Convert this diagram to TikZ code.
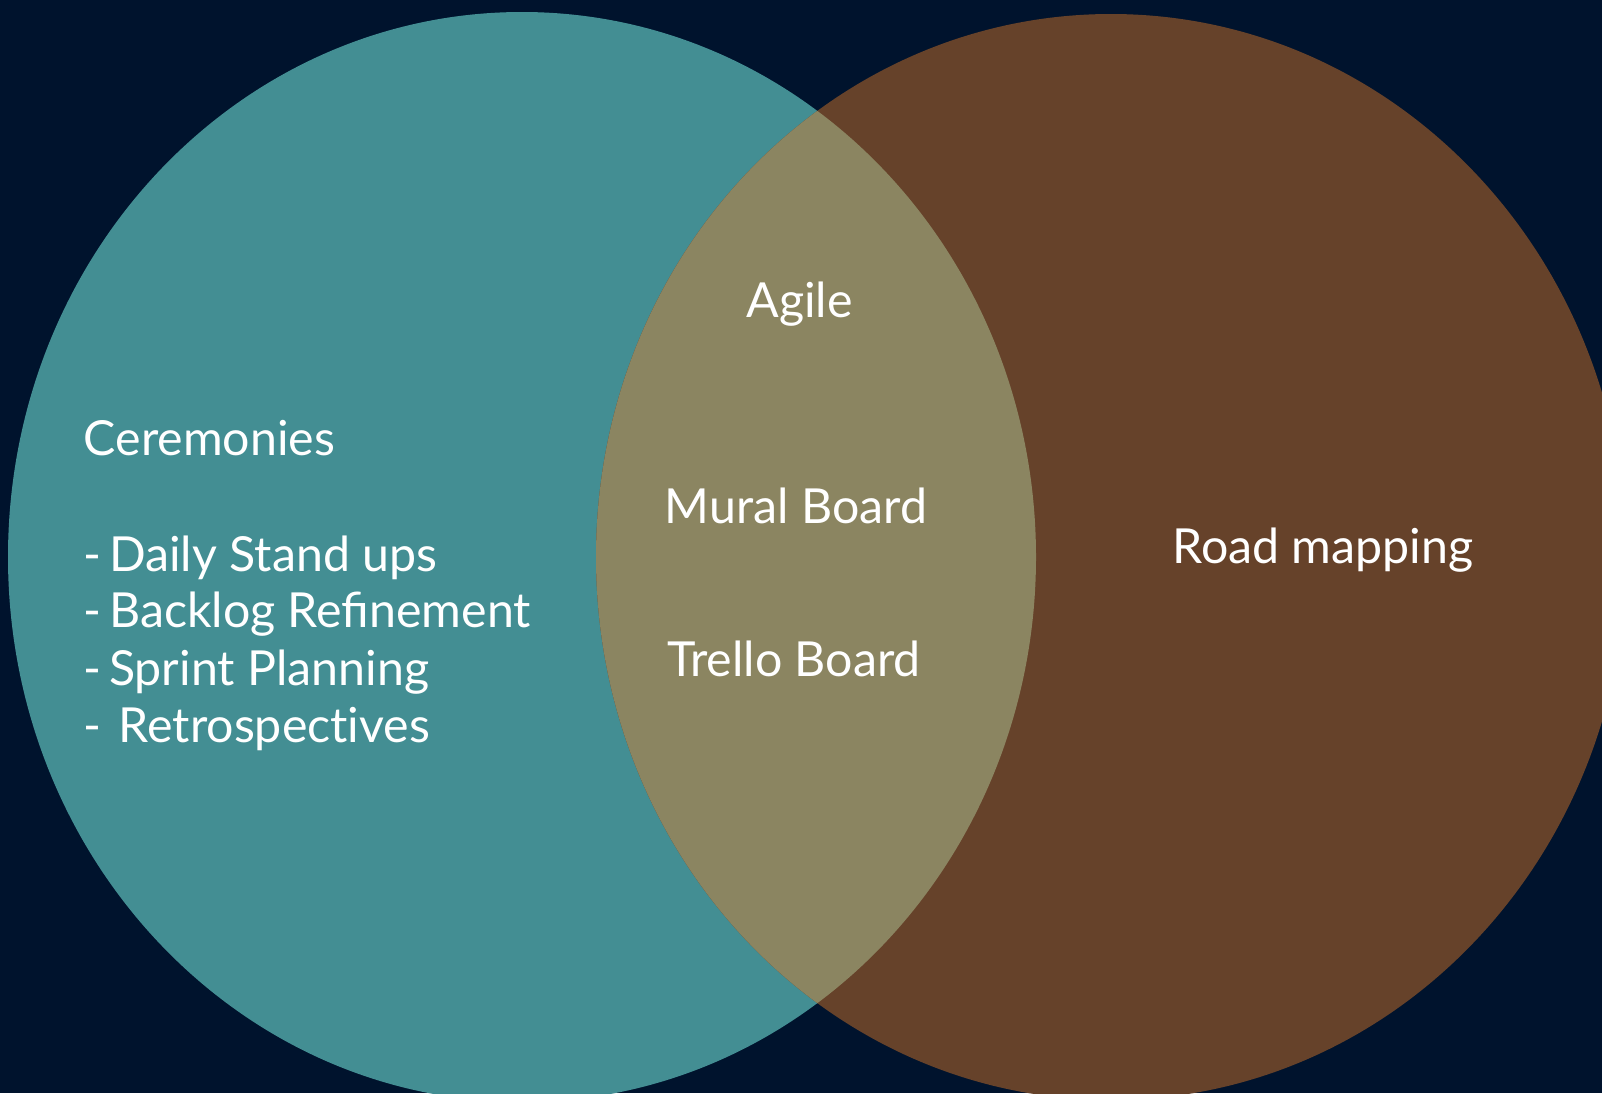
\documentclass[tikz,border=0pt]{standalone}
\usepackage{fontspec}
\setmainfont{Lato}
\definecolor{bgnavy}{RGB}{0,19,45}
\definecolor{tealc}{RGB}{67,142,147}
\definecolor{brownc}{RGB}{102,66,42}
\definecolor{lensc}{RGB}{139,133,97}
\tikzset{
  lbl/.style={text=white, inner sep=0pt, font=\fontsize{48.3}{58}\selectfont},
}
\begin{document}
\begin{tikzpicture}[x=1pt,y=-1pt]
\useasboundingbox (0,0) rectangle (1602,1093);
\fill[bgnavy] (0,0) rectangle (1602,1093);
\fill[tealc] (522,557) ellipse [x radius=514pt, y radius=545pt];
\fill[brownc] (1111,557) ellipse [x radius=515pt, y radius=543pt];
\begin{scope}
  \clip (522,557) ellipse [x radius=514pt, y radius=545pt];
  \fill[lensc] (1111,557) ellipse [x radius=515pt, y radius=543pt];
\end{scope}
\node[lbl, anchor=base west] (cer) at (83.5,455.7) {Ceremonies};
\node[lbl, anchor=base west] (l1) at (83.5,571.7) {-\hspace{7.5pt}Daily Stand ups};
\node[lbl, anchor=base west] (l2) at (83.5,627.3) {-\hspace{7.5pt}Backlog Refinement};
\node[lbl, anchor=base west] (l3) at (83.5,685) {-\hspace{7.5pt}Sprint Planning};
\node[lbl, anchor=base west] (l4) at (83.5,742.7) {-\hspace{17pt}Retrospect\kern0pt ives};
\node[lbl, anchor=base] (agile) at (799.5,317.7) {Agile};
\node[lbl, anchor=base] (mural) at (796,523.3) {Mural Board};
\node[lbl, anchor=base] (trello) at (794,676.7) {Trello Board};
\node[lbl, anchor=base] (road) at (1323,563.3) {Road mapping};
\end{tikzpicture}
\end{document}
